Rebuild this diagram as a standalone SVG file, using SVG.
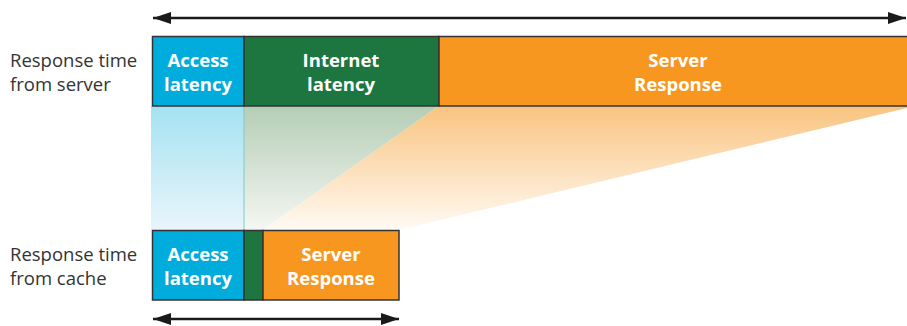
<svg xmlns="http://www.w3.org/2000/svg" width="907" height="326" viewBox="0 0 907 326">
<style>
.seg{stroke:#333;stroke-width:1.5}
.blue{fill:#00acdb}
.green{fill:#1d7540}
.orange{fill:#f79720}
.bt{font-family:"Open Sans","Noto Sans",sans-serif;font-weight:bold;font-size:18.5px;fill:#fff;text-anchor:middle}
.lt{font-family:"Open Sans","Noto Sans",sans-serif;font-size:18.5px;fill:#333}
.arr{stroke:#1a1a1a;stroke-width:2.5;fill:none}
</style>
<defs>
<linearGradient id="gb" gradientUnits="userSpaceOnUse" x1="0" y1="106" x2="0" y2="230">
<stop offset="0" stop-color="#a4e2f1"/><stop offset="1" stop-color="#e9f5fb"/>
</linearGradient>
<linearGradient id="gg" gradientUnits="userSpaceOnUse" x1="0" y1="106" x2="0" y2="230">
<stop offset="0" stop-color="#b5cdb5"/><stop offset="1" stop-color="#f5f7f3"/>
</linearGradient>
<linearGradient id="go" gradientUnits="userSpaceOnUse" x1="0" y1="106" x2="0" y2="230">
<stop offset="0" stop-color="#f9c480"/><stop offset="1" stop-color="#fffaf4"/>
</linearGradient>
<marker id="ah" viewBox="0 0 18 12" refX="18" refY="6" markerWidth="18" markerHeight="12" markerUnits="userSpaceOnUse" orient="auto-start-reverse">
<path d="M0,0 L18,6 L0,12 Z" fill="#1a1a1a"/>
</marker>
</defs>
<g id="projection">
<polygon points="151,106 244,106 244,230 151,230" fill="url(#gb)"/>
<polygon points="244,106 439,106 263,230 244,230" fill="url(#gg)"/>
<polygon points="439,106 907,106 907,108 399,230 263,230" fill="url(#go)"/>
<line x1="244" y1="106" x2="244" y2="230" stroke="#7cc9cf" stroke-width="1"/>
</g>
<g id="connectors">
<line class="arr" x1="153" y1="18" x2="906" y2="18" marker-start="url(#ah)" marker-end="url(#ah)"/>
<line class="arr" x1="153" y1="319" x2="399" y2="319" marker-start="url(#ah)" marker-end="url(#ah)"/>
</g>
<g id="label-server">
<text class="lt" x="10" y="67">Response time</text>
<text class="lt" x="10" y="91">from server</text>
</g>
<g id="label-cache">
<text class="lt" x="10" y="261">Response time</text>
<text class="lt" x="10" y="285">from cache</text>
</g>
<g id="server-access">
<rect class="seg blue" x="152.5" y="36.5" width="91.5" height="69.5"/>
<text class="bt" x="198" y="67">Access</text>
<text class="bt" x="198" y="91">latency</text>
</g>
<g id="server-internet">
<rect class="seg green" x="244" y="36.5" width="195" height="69.5"/>
<text class="bt" x="341" y="67">Internet</text>
<text class="bt" x="341" y="91">latency</text>
</g>
<g id="server-response">
<rect class="seg orange" x="439" y="36.5" width="480" height="69.5"/>
<text class="bt" x="678" y="67">Server</text>
<text class="bt" x="678" y="91">Response</text>
</g>
<g id="cache-access">
<rect class="seg blue" x="152.5" y="230.5" width="91.5" height="69.5"/>
<text class="bt" x="198" y="261">Access</text>
<text class="bt" x="198" y="285">latency</text>
</g>
<g id="cache-internet">
<rect class="seg green" x="244" y="230.5" width="19" height="69.5"/>
</g>
<g id="cache-response">
<rect class="seg orange" x="263" y="230.5" width="136" height="69.5"/>
<text class="bt" x="331" y="261">Server</text>
<text class="bt" x="331" y="285">Response</text>
</g>
</svg>
